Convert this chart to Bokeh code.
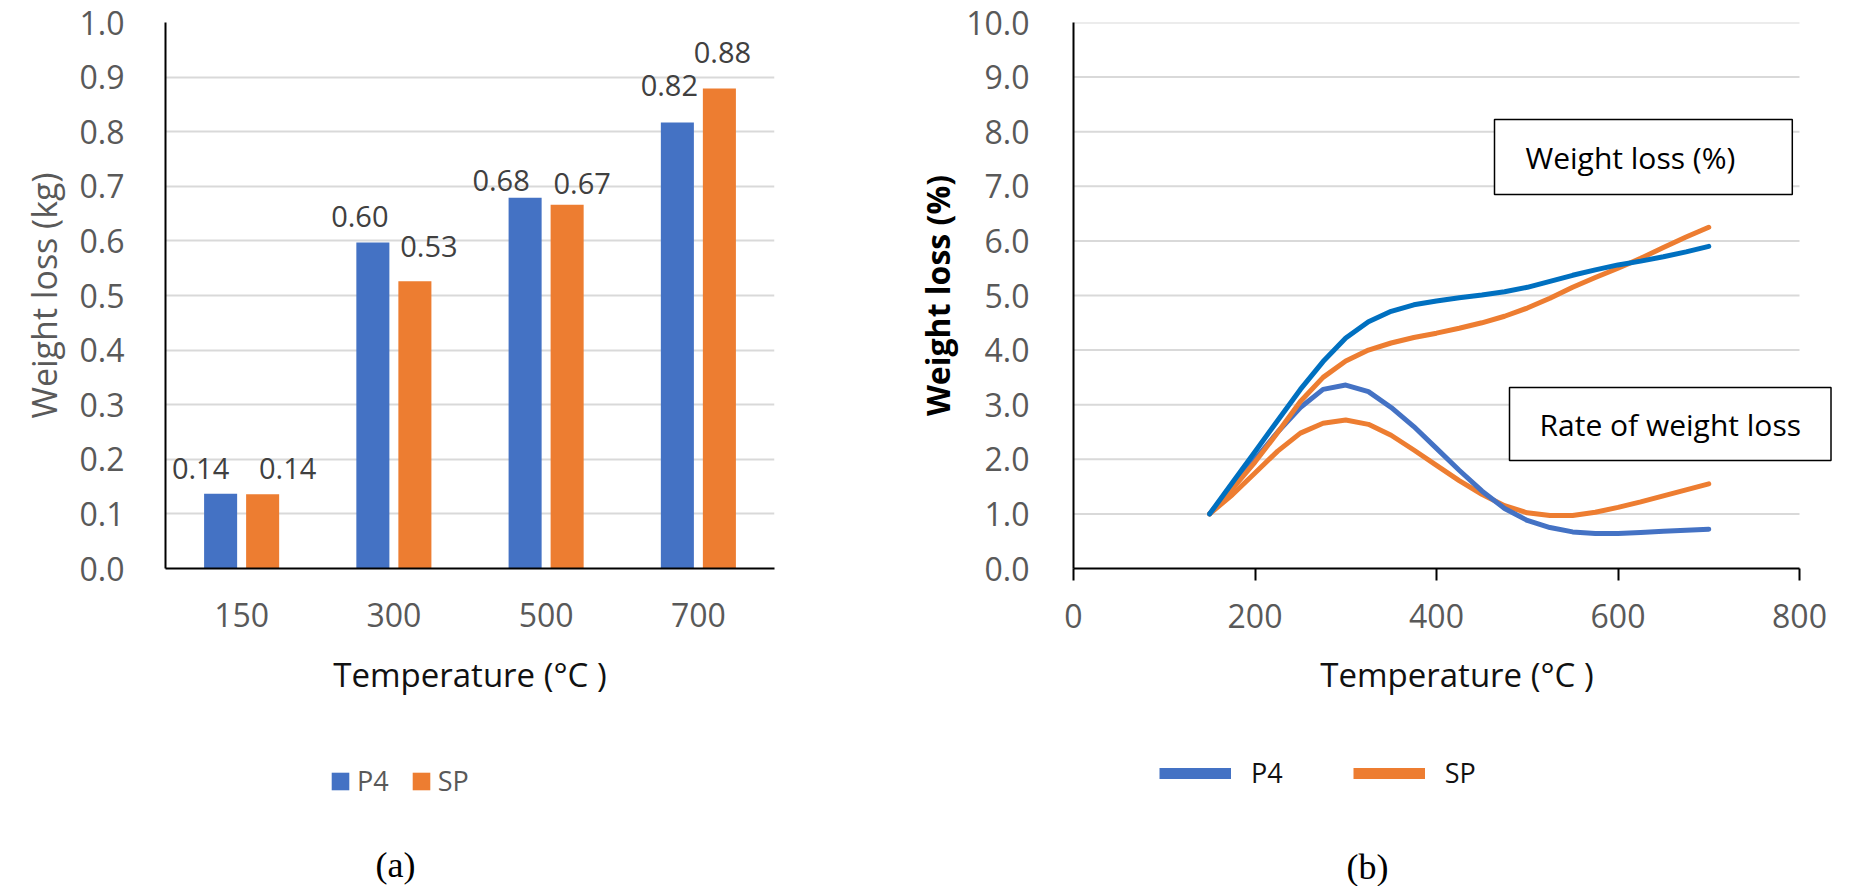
from bokeh.plotting import figure
from bokeh.models import (Range1d, FactorRange, ColumnDataSource, LabelSet, Label, Legend,
                          LegendItem, FixedTicker, NumeralTickFormatter)
from bokeh.transform import dodge
from bokeh.layouts import row, column
from bokeh.embed import file_html
from bokeh.resources import INLINE
from bokeh.core.properties import value

# ---------------- data ----------------
categories = ["150", "300", "500", "700"]
p4_kg = [0.137, 0.597, 0.679, 0.817]
sp_kg = [0.136, 0.526, 0.666, 0.879]

temps = [150, 175, 200, 225, 250, 275, 300, 325, 350, 375, 400, 425, 450,
         475, 500, 525, 550, 575, 600, 625, 650, 675, 700]
p4_loss = [1.0, 1.57, 2.14, 2.71, 3.28, 3.79, 4.22, 4.52, 4.71, 4.83, 4.90, 4.96, 5.01,
           5.07, 5.15, 5.26, 5.37, 5.47, 5.56, 5.63, 5.71, 5.80, 5.90]
sp_loss = [1.0, 1.46, 1.95, 2.49, 3.06, 3.50, 3.80, 4.00, 4.13, 4.23, 4.31, 4.40, 4.50,
           4.62, 4.77, 4.95, 5.15, 5.33, 5.50, 5.68, 5.88, 6.07, 6.25]
p4_rate = [1.0, 1.5, 2.0, 2.5, 2.95, 3.28, 3.36, 3.24, 2.95, 2.60, 2.20, 1.80, 1.42,
           1.10, 0.88, 0.75, 0.67, 0.64, 0.64, 0.66, 0.68, 0.70, 0.72]
sp_rate = [1.0, 1.35, 1.75, 2.15, 2.48, 2.66, 2.72, 2.64, 2.44, 2.17, 1.89, 1.61, 1.36,
           1.15, 1.02, 0.97, 0.97, 1.03, 1.12, 1.22, 1.33, 1.44, 1.55]

kg_ticks = [0.0, 0.1, 0.2, 0.3, 0.4, 0.5, 0.6, 0.7, 0.8, 0.9, 1.0]
pct_ticks = [0, 1, 2, 3, 4, 5, 6, 7, 8, 9, 10]
temp_ticks = [0, 200, 400, 600, 800]

# label nudges (screen px) for bar value labels
p4_dx = [-20, -13, -24, -8]
p4_dy = [15, 16, 7, 26]
sp_dx = [25, 14, 15, 3]
sp_dy = [15, 24, 11, 26]

BLUE = "#4472C4"
DBLUE = "#0070C0"
ORANGE = "#ED7D31"
GRID = "#d9d9d9"
TICKC = "#595959"
FONT = "Open Sans"
TOP_H = 740
BOT_H = 886 - TOP_H
NAN = float("nan")


def style_axes(p):
    p.outline_line_color = None
    p.xgrid.visible = False
    p.ygrid.grid_line_color = GRID
    p.ygrid.grid_line_width = 2
    for ax in (p.xaxis[0], p.yaxis[0]):
        ax.axis_line_color = "black"
        ax.axis_line_width = 2
        ax.major_label_text_font = FONT
        ax.major_label_text_font_size = "32px"
        ax.major_label_text_color = TICKC
        ax.axis_label_text_font = FONT
        ax.axis_label_text_font_style = "normal"
        ax.minor_tick_line_color = None
        ax.major_tick_in = 0


def blank(width):
    q = figure(width=width, height=BOT_H, x_range=Range1d(0, width), y_range=Range1d(0, BOT_H),
               output_backend="svg", toolbar_location=None, x_axis_location=None,
               y_axis_location=None, min_border=0)
    q.outline_line_color = None
    q.grid.visible = False
    return q


# ---------------- (a) bar chart ----------------
p1 = figure(width=900, height=TOP_H, x_range=FactorRange(*categories), y_range=Range1d(0, 1),
            output_backend="svg", toolbar_location=None,
            min_border_left=165, min_border_right=126, min_border_top=22,
            min_border_bottom=TOP_H - 568)
style_axes(p1)
p1.x_range.range_padding = 0
p1.yaxis.ticker = FixedTicker(ticks=kg_ticks)
p1.yaxis.formatter = NumeralTickFormatter(format="0.0")
p1.yaxis.major_tick_line_color = None
p1.yaxis.major_label_standoff = 35
p1.yaxis.axis_label = "Weight loss (kg)"
p1.yaxis.axis_label_text_font_size = "34px"
p1.yaxis.axis_label_text_color = TICKC
p1.yaxis.axis_label_standoff = 10
p1.xaxis.major_tick_line_color = None
p1.xaxis.major_label_standoff = 28
p1.xaxis.axis_label = "Temperature (°C )"
p1.xaxis.axis_label_text_font_size = "33px"
p1.xaxis.axis_label_text_color = "#111111"
p1.xaxis.axis_label_standoff = 22

src = ColumnDataSource(dict(
    cat=categories, P4=p4_kg, SP=sp_kg,
    p4_txt=[f"{v:.2f}" for v in p4_kg], sp_txt=[f"{v:.2f}" for v in sp_kg],
    p4_dx=p4_dx, p4_dy=p4_dy, sp_dx=sp_dx, sp_dy=sp_dy))

p1.vbar(x=dodge("cat", -0.138, range=p1.x_range), top="P4", width=0.217,
        source=src, fill_color=BLUE, line_color=None)
p1.vbar(x=dodge("cat", 0.138, range=p1.x_range), top="SP", width=0.217,
        source=src, fill_color=ORANGE, line_color=None)

for ycol, tcol, dxc, dyc, off in (("P4", "p4_txt", "p4_dx", "p4_dy", -0.138),
                                  ("SP", "sp_txt", "sp_dx", "sp_dy", 0.138)):
    p1.add_layout(LabelSet(x=dodge("cat", off, range=p1.x_range), y=ycol, text=tcol,
                           x_offset=dxc, y_offset=dyc, source=src,
                           text_align="center", text_baseline="alphabetic",
                           text_font=value(FONT), text_font_size="29px", text_color="#404040"))

# legend + caption strip under (a)
p3 = blank(900)
swatch_a = ColumnDataSource(dict(x=[NAN], top=[NAN]))
lg_a1 = p3.vbar(x="x", top="top", width=1, source=swatch_a, fill_color=BLUE, line_color=None)
lg_a2 = p3.vbar(x="x", top="top", width=1, source=swatch_a, fill_color=ORANGE, line_color=None)
p3.add_layout(Legend(items=[LegendItem(label="P4", renderers=[lg_a1]),
                            LegendItem(label="SP", renderers=[lg_a2])],
                     orientation="horizontal", location=(329, 87),
                     glyph_width=22, glyph_height=22, label_standoff=6, spacing=21,
                     padding=0, margin=0, border_line_color=None, background_fill_alpha=0,
                     label_text_font=FONT, label_text_font_size="27px",
                     label_text_color=TICKC))
p3.add_layout(Label(x=395, y=42, x_units="screen", y_units="screen", text="(a)",
                    text_align="center", text_baseline="top",
                    text_font="Liberation Serif", text_font_size="36px", text_color="black"))

# ---------------- (b) line chart ----------------
x_end = 800 * (1840 - 1073) / (1799 - 1073)   # frame widened so the text box fits
p2 = figure(width=968, height=TOP_H, x_range=Range1d(0, x_end), y_range=Range1d(0, 10),
            output_backend="svg", toolbar_location=None,
            min_border_left=173, min_border_right=968 - (1840 - 900), min_border_top=22,
            min_border_bottom=TOP_H - 568)
style_axes(p2)
p2.ygrid.visible = False
p2.yaxis.ticker = FixedTicker(ticks=pct_ticks)
p2.yaxis.formatter = NumeralTickFormatter(format="0.0")
p2.yaxis.major_tick_line_color = None
p2.yaxis.major_label_standoff = 38
p2.yaxis.axis_label = "Weight loss (%)"
p2.yaxis.axis_label_text_font_size = "32px"
p2.yaxis.axis_label_text_font_style = "bold"
p2.yaxis.axis_label_text_color = "black"
p2.yaxis.axis_label_standoff = 4
p2.xaxis.ticker = FixedTicker(ticks=temp_ticks)
p2.xaxis.bounds = (temp_ticks[0], temp_ticks[-1])
p2.xaxis.major_tick_out = 12
p2.xaxis.major_tick_line_color = "black"
p2.xaxis.major_tick_line_width = 2
p2.xaxis.major_label_standoff = 23
p2.xaxis.axis_label = "Temperature (°C )"
p2.xaxis.axis_label_text_font_size = "33px"
p2.xaxis.axis_label_text_color = "#111111"
p2.xaxis.axis_label_standoff = 21

# horizontal gridlines spanning the axis extent 0..800
gsrc = ColumnDataSource(dict(y=pct_ticks[1:],
                             x0=[temp_ticks[0]] * (len(pct_ticks) - 1),
                             x1=[temp_ticks[-1]] * (len(pct_ticks) - 1)))
p2.segment(x0="x0", x1="x1", y0="y", y1="y", source=gsrc, line_color=GRID, line_width=2)

lsrc = ColumnDataSource(dict(T=temps, p4_loss=p4_loss, sp_loss=sp_loss,
                             p4_rate=p4_rate, sp_rate=sp_rate))
for col, colr in (("sp_rate", ORANGE), ("p4_rate", BLUE), ("sp_loss", ORANGE), ("p4_loss", DBLUE)):
    p2.line("T", col, source=lsrc, line_color=colr, line_width=5,
            line_join="round", line_cap="round")

p2.add_layout(Label(x=421, y=449, x_units="screen", y_units="screen", text="Weight loss (%)",
                    text_align="left", text_baseline="top",
                    text_font=FONT, text_font_size="30px", text_color="black",
                    padding=dict(left=31, right=57, top=17, bottom=17),
                    border_line_color="black", border_line_width=1.5,
                    background_fill_color="white"))
p2.add_layout(Label(x=436, y=181, x_units="screen", y_units="screen", text="Rate of weight loss",
                    text_align="left", text_baseline="top",
                    text_font=FONT, text_font_size="30px", text_color="black",
                    padding=dict(left=30, right=30, top=16, bottom=16),
                    border_line_color="black", border_line_width=1.5,
                    background_fill_color="white"))

# legend + caption strip under (b)
p4 = blank(968)
swatch_b = ColumnDataSource(dict(x=[NAN], y=[NAN]))
lg_b1 = p4.line("x", "y", source=swatch_b, line_color=BLUE, line_width=11)
lg_b2 = p4.line("x", "y", source=swatch_b, line_color=ORANGE, line_width=11)
p4.add_layout(Legend(items=[LegendItem(label="P4", renderers=[lg_b1]),
                            LegendItem(label="SP", renderers=[lg_b2])],
                     orientation="horizontal", location=(259, 95),
                     glyph_width=72, glyph_height=22, label_standoff=20, spacing=70,
                     padding=0, margin=0, border_line_color=None, background_fill_alpha=0,
                     label_text_font=FONT, label_text_font_size="27px",
                     label_text_color="#111111"))
p4.add_layout(Label(x=467, y=40, x_units="screen", y_units="screen", text="(b)",
                    text_align="center", text_baseline="top",
                    text_font="Liberation Serif", text_font_size="36px", text_color="black"))

layout = column(row(p1, p2), row(p3, p4))
open("out.html", "w").write(file_html(layout, INLINE))
